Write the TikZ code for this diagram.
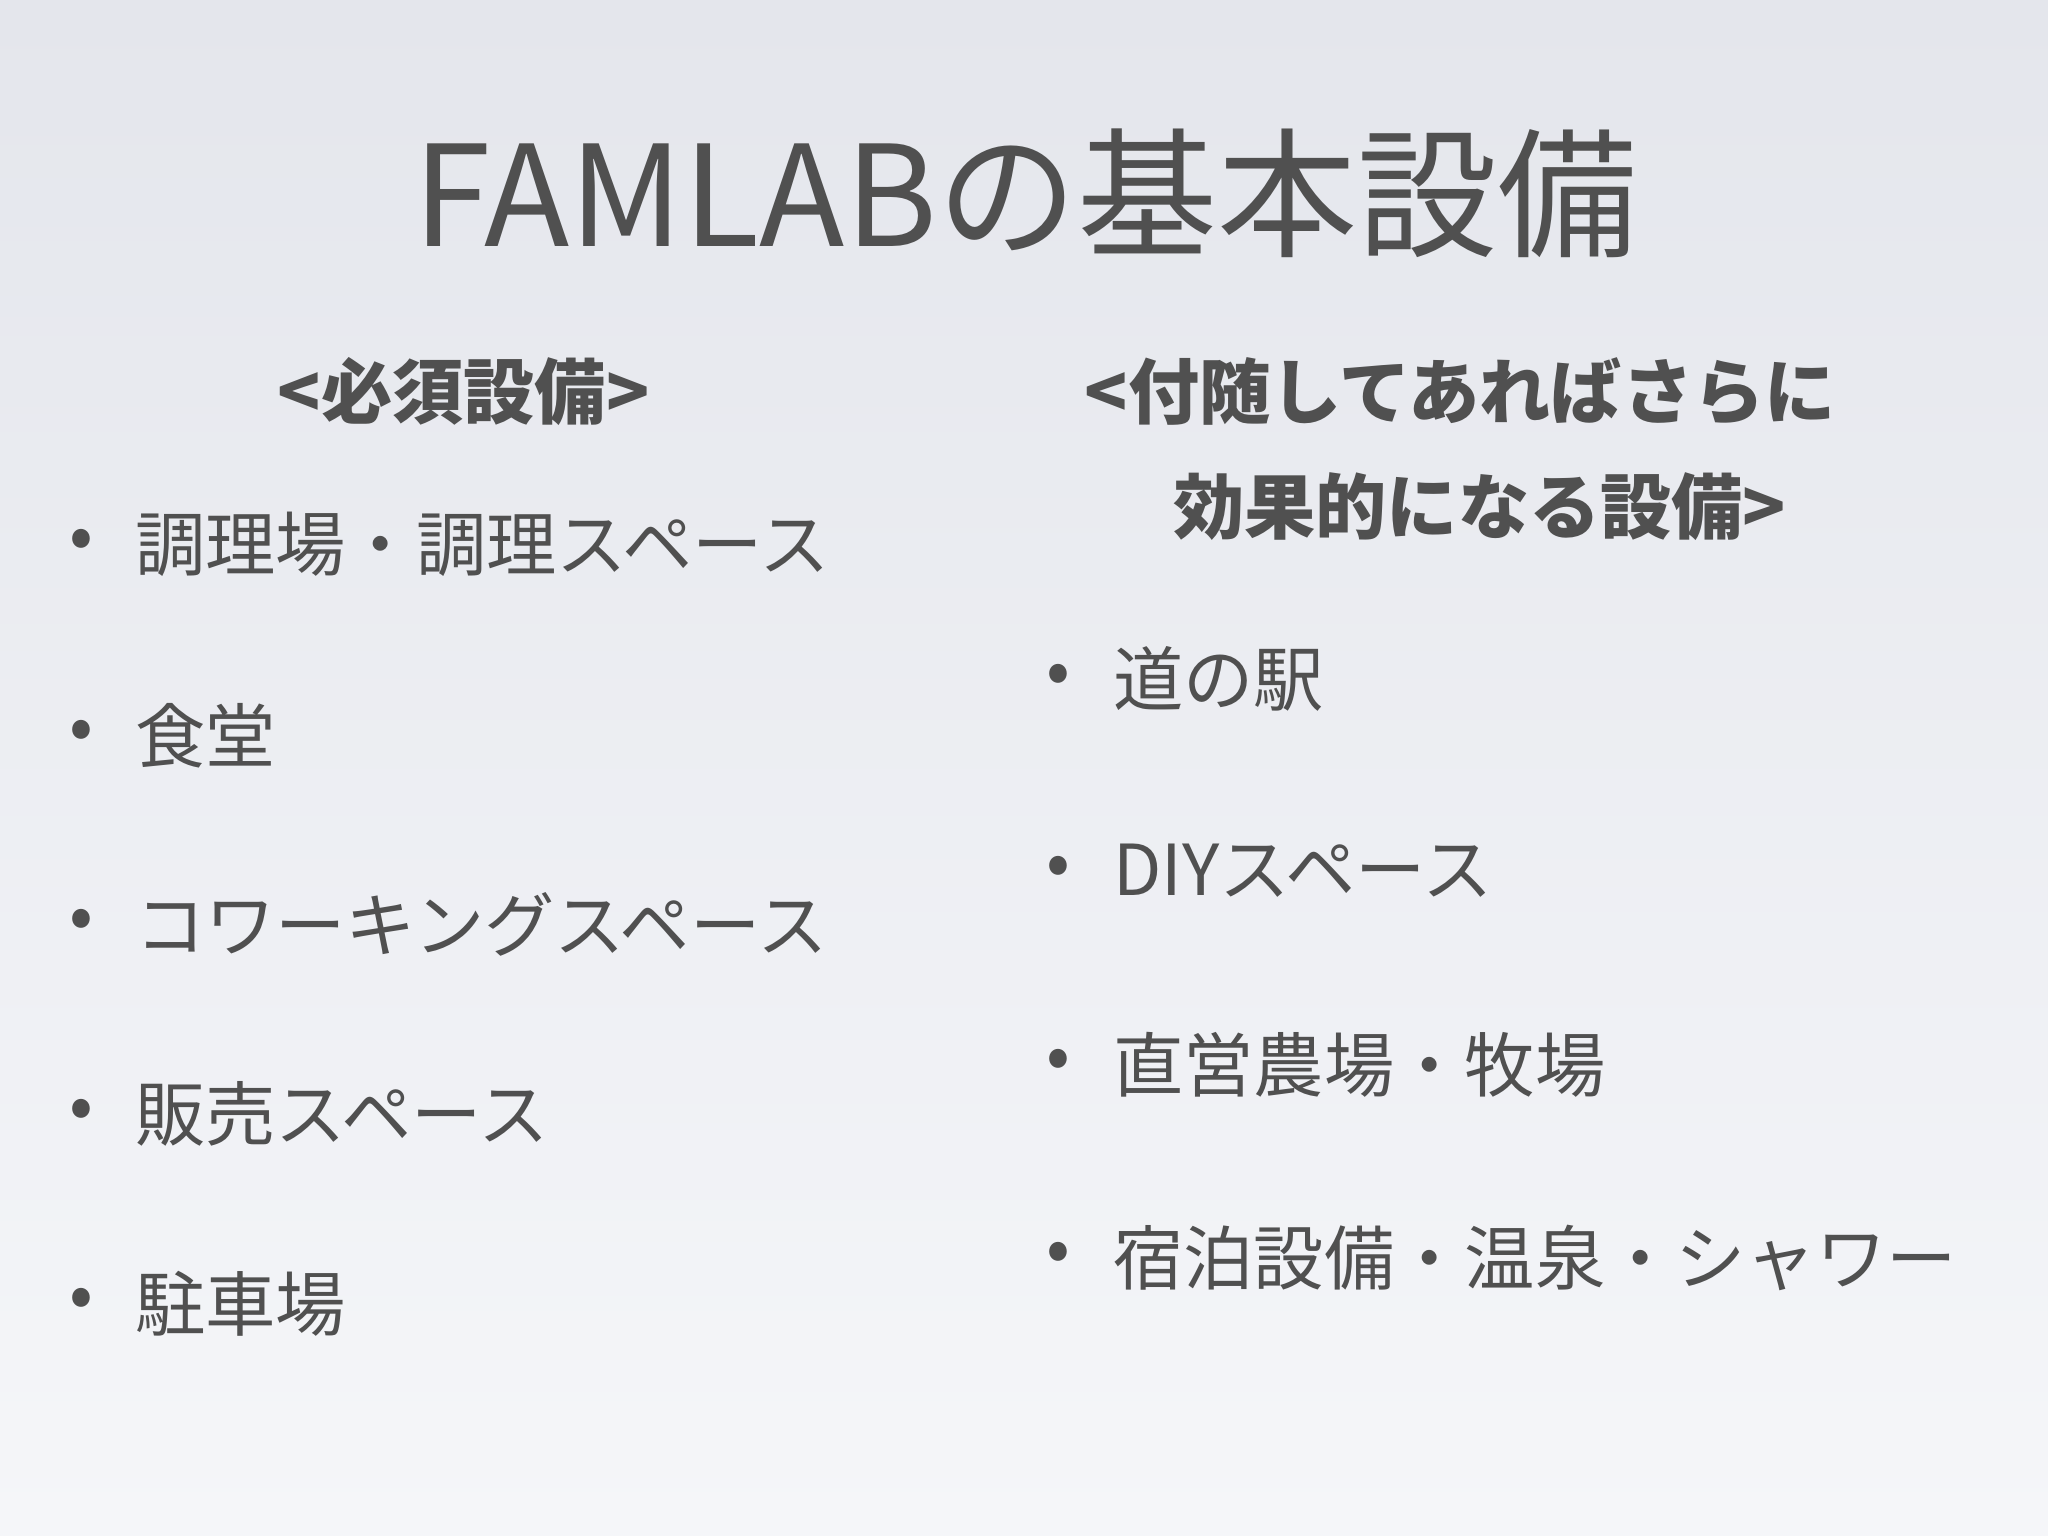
\documentclass[tikz,border=0pt]{standalone}
\usepackage{fontspec}
\setmainfont{Noto Sans CJK JP}
\definecolor{txt}{HTML}{505050}
\begin{document}
\begin{tikzpicture}[x=0.01cm,y=-0.01cm,
  title/.style={text=txt,font=\fontsize{30.5}{36}\selectfont},
  head/.style={text=txt,font=\fontsize{15.5}{18}\selectfont\bfseries},
  item/.style={text=txt,anchor=west,font=\fontsize{15.3}{20}\selectfont},
  dot/.style={text=txt,anchor=center,font=\fontsize{15.3}{20}\selectfont}]
\shade[top color={rgb,255:red,228;green,230;blue,236},bottom color={rgb,255:red,245;green,246;blue,249}] (0,0) rectangle (1568,1176);
\useasboundingbox (0,0) rectangle (1568,1176);
\node[title] (t) at (785,148) {FAMLABの基本設備};
\node[head] (h1) at (355,300) {<必須設備>};
\node[head] (h2) at (1118,300) {<付随してあればさらに};
\node[head] (h3) at (1133,388) {効果的になる設備>};
\foreach \y/\s [count=\i] in {417/調理場・調理スペース,563/食堂,708/コワーキングスペース,853/販売スペース,998/駐車場}{
  \node[dot] (ld\i) at (62,\y) {•};
  \node[item] (l\i) at (91,\y) {\s};
}
\foreach \y/\s [count=\i] in {520/道の駅,667/DIYスペース,815/直営農場・牧場,963/宿泊設備・温泉・シャワー}{
  \node[dot] (rd\i) at (810,\y) {•};
  \node[item] (r\i) at (840,\y) {\s};
}
\end{tikzpicture}
\end{document}
